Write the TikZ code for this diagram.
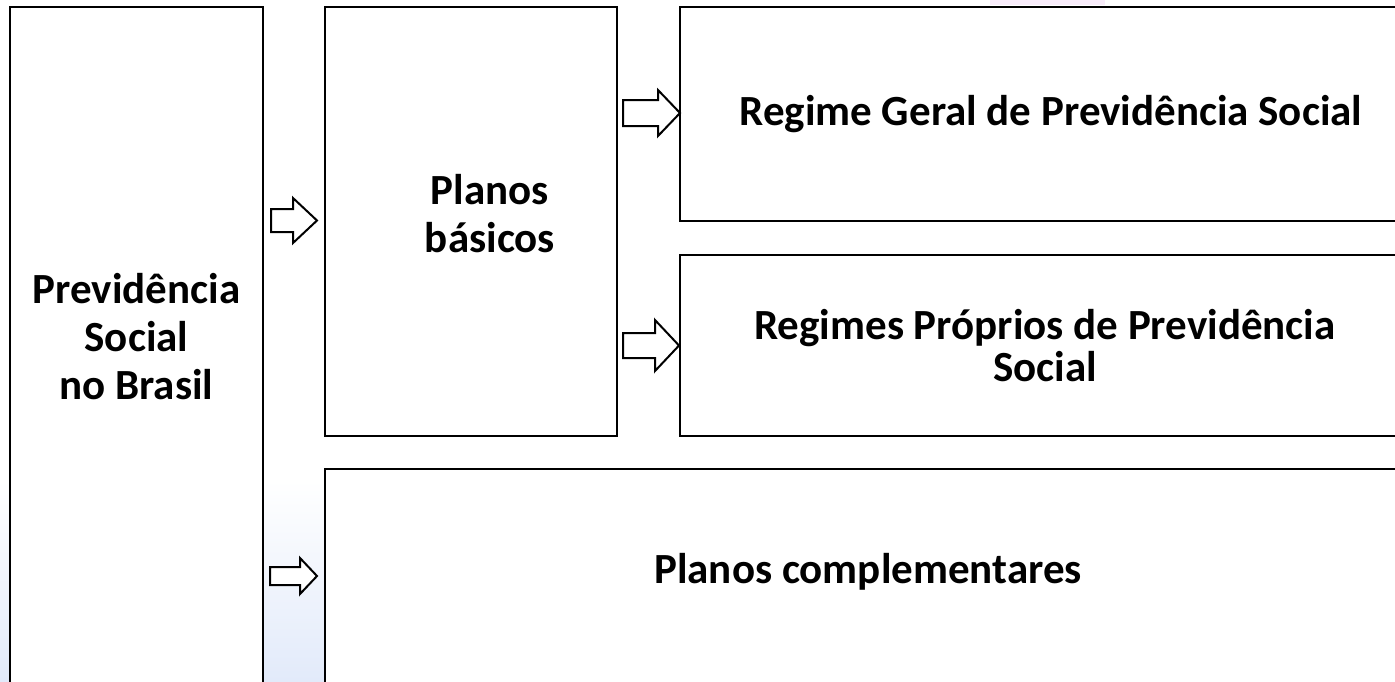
\documentclass[tikz,border=0pt]{standalone}
\usepackage{fontspec}
\setmainfont{Carlito}

\definecolor{fundoazul}{RGB}{226,234,250}
\definecolor{fundorosa}{RGB}{248,236,250}

\tikzset{
  caixa/.style={draw=black, line width=1.15pt, fill=white, inner sep=0pt,
    font=\bfseries\fontsize{21.5}{24}\selectfont, align=center},
  rotulo/.style={font=\bfseries\fontsize{21.5}{24}\selectfont, align=center, inner sep=0pt},
  setalinha/.style={draw=black, line width=1pt, fill=white, line join=miter},
  pics/seta/.style n args={4}{code={
    \draw[setalinha] (0,-#3/2) -- (#1-#4,-#3/2) -- (#1-#4,-#2/2) -- (#1,0)
      -- (#1-#4,#2/2) -- (#1-#4,#3/2) -- (0,#3/2) -- cycle;
  }}
}

\begin{document}
\begin{tikzpicture}[x=0.5pt, y=-0.5pt]

\clip (0,0) rectangle (1395,681);
\fill[white] (0,0) rectangle (1395,681);
% fundo do slide
\shade[top color=white, bottom color=fundoazul] (0,480) rectangle (340,681);
\fill[fundorosa] (990,0) rectangle (1105,5);

% caixas
\node[caixa, minimum width=126.5pt, minimum height=356.5pt] (previdencia) at (136.5,363.5) {};
\node[rotulo] (previdenciatxt) at (136.5,337) {Previdência\\Social\\no Brasil};

\node[caixa, minimum width=146pt, minimum height=214.5pt] (basicos) at (471,221.5) {};
\node[rotulo] (basicostxt) at (490,214) {Planos\\básicos};

\node[caixa, minimum width=371pt, minimum height=107pt] (geral) at (1051,114) {Regime Geral de Previdência Social};
\node[caixa, minimum width=365pt, minimum height=90.5pt] (proprios) at (1045,345.5) {Regimes Próprios de Previdência\\[-3pt]Social};

\node[caixa, minimum width=550pt, minimum height=125.5pt] (complementares) at (875,594.5) {};
\node[rotulo] (complementarestxt) at (868,572) {Planos complementares};

% setas
\pic (seta1) at (271,220.5) {seta={46}{45}{23}{24}};
\pic (seta2) at (623,113) {seta={57}{46}{26}{22}};
\pic (seta3) at (623,345.5) {seta={56}{51}{25}{24}};
\pic (seta4) at (270,576) {seta={47}{36}{18}{17}};

\end{tikzpicture}
\end{document}
